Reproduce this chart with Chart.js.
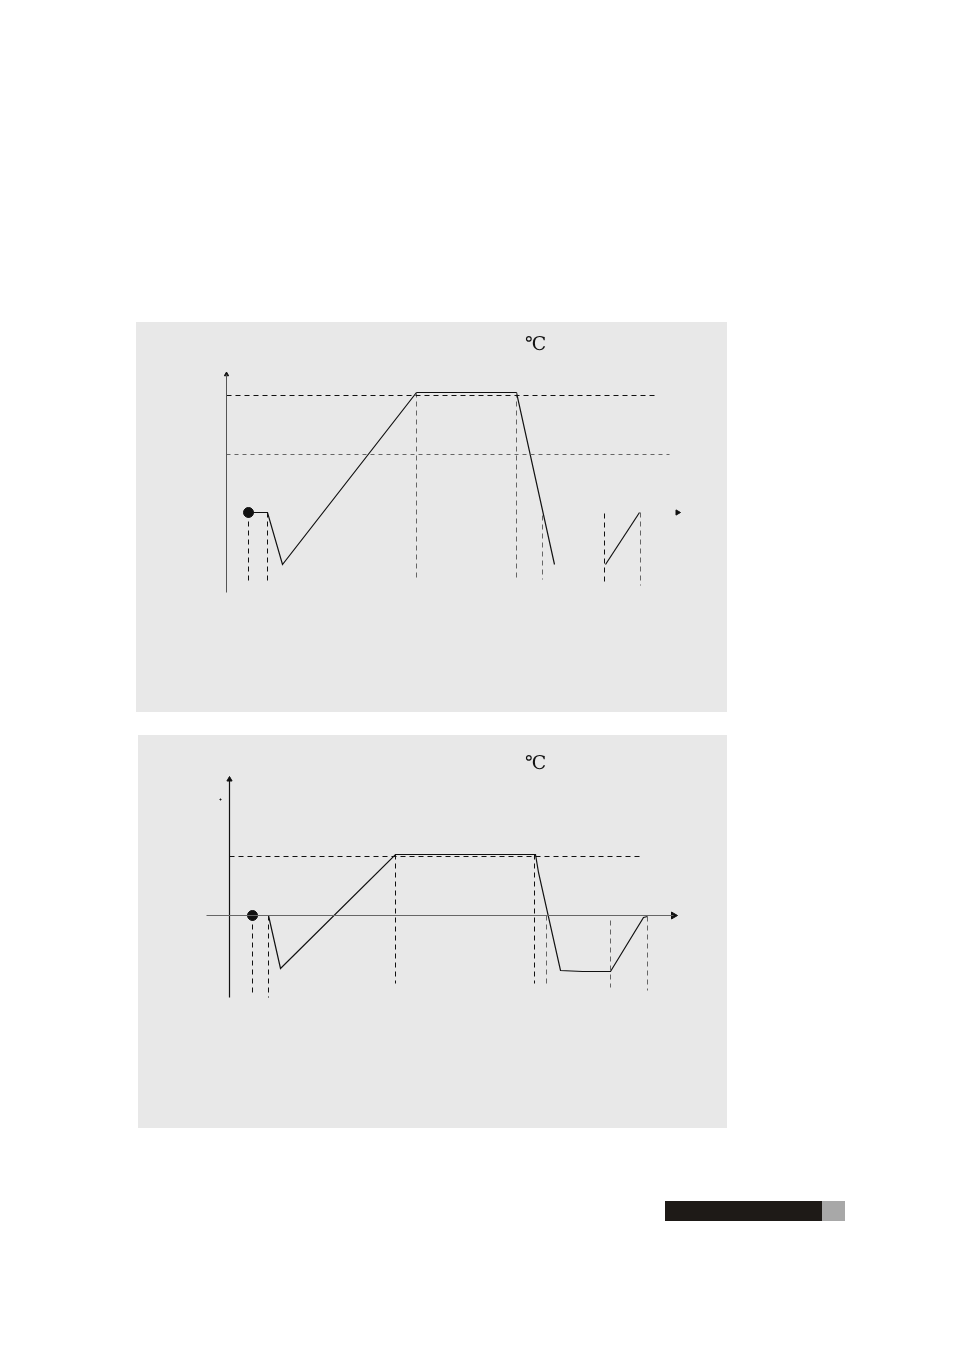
<!DOCTYPE html>
<html>
<head>
<meta charset="utf-8">
<script src="https://cdn.jsdelivr.net/npm/chart.js@4.4.1/dist/chart.umd.min.js"></script>
<style>
    body { margin: 0; background: #fff; width: 954px; height: 1350px; position: relative; overflow: hidden; }
    .panel { position: absolute; background: #e8e8e8; }
    .panel canvas { position: absolute; left: 0; top: 0; }
    .unidad { position: absolute; font-family: "Liberation Serif", "DejaVu Serif", serif; font-size: 19px; color: #111; line-height: 1; }
    .barra { position: absolute; top: 1201px; height: 20px; }
</style>
</head>
<body>

<div class="panel" style="left:136px; top:322px; width:591px; height:390px;">
    <canvas id="graficoSuperior" width="591" height="390"></canvas>
    <div class="unidad" style="left:389px; top:12px;">℃</div>
</div>

<div class="panel" style="left:138px; top:735px; width:589px; height:393px;">
    <canvas id="graficoInferior" width="589" height="393"></canvas>
    <div class="unidad" style="left:387px; top:18px;">℃</div>
</div>

<div class="barra" style="left:665px; width:157px; background:#1e1a17;"></div>
<div class="barra" style="left:822px; width:23px; background:#a8a8a8;"></div>

<script>
// ---------- Diagrama superior (tiempo / temperatura, unidades arbitrarias) ----------
const perfilSupX = [22, 41, 56, 190, 290, 328];
const perfilSupY = [0, 0, -52, 120, 120, -52];
const rampaSupX = [379, 413];
const rampaSupY = [-52, 0];
const nivelesSup = [117, 58];
const nivelesSupFin = [431, 443];
const guiasSupX = [22, 41, 190, 290, 316, 378, 414];
const guiasSupDesde = [0, 0, 120, 120, -3, -1, 0];
const guiasSupHasta = [-70, -70, -66, -66, -67, -71, -73];
const ejeSupY = [-80, 138];
const flechaSupX = 451;

// ---------- Diagrama inferior ----------
const perfilInfX = [39, 51, 166, 306, 309, 331, 353, 381, 414, 418];
const perfilInfY = [0, -53, 61, 61, 43, -55, -56, -56, -2, -1];
const nivelInf = 59;
const nivelInfFin = 411;
const guiasInfX = [23, 39, 166, 305, 317, 381, 418];
const guiasInfDesde = [0, 0, 61, 61, 0, -5, -1];
const guiasInfHasta = [-81, -82, -68, -68, -72, -72, -75];
const ejeInfX = [-23, 444];
const ejeInfY = [-82, 136];
const inicioInf = 23;

function puntos(xs, ys) {
    return xs.map((x, i) => ({ x: x, y: ys[i] }));
}

// segmentos separados por huecos (y null)
function segmentos(lista) {
    const out = [];
    lista.forEach(s => {
        out.push({ x: s[0], y: s[1] }, { x: s[2], y: s[3] }, { x: s[2], y: null });
    });
    return out;
}

function guias(xs, desde, hasta, indices) {
    return segmentos(indices.map(i => [xs[i], desde[i], xs[i], hasta[i]]));
}

function linea(data, color, ancho, dash) {
    return {
        data: data,
        showLine: true,
        borderColor: color,
        borderWidth: ancho,
        borderDash: dash || [],
        pointRadius: 0,
        spanGaps: false,
        tension: 0
    };
}

function marca(x, y, estilo, radio, giro) {
    return {
        data: [{ x: x, y: y }],
        showLine: false,
        pointStyle: estilo,
        pointRadius: radio,
        rotation: giro || 0,
        backgroundColor: "#111",
        borderColor: "#111",
        borderWidth: 1
    };
}

function crearDiagrama(id, rangoX, rangoY, datasets) {
    const ctx = document.getElementById(id);
    if (!ctx) {
        console.warn(`Canvas no encontrado: ${id}`);
        return;
    }
    new Chart(ctx, {
        type: "scatter",
        data: { datasets: datasets },
        options: {
            responsive: false,
            animation: false,
            layout: { padding: 0, autoPadding: false },
            plugins: { legend: { display: false }, tooltip: { enabled: false } },
            scales: {
                x: { type: "linear", display: false, min: rangoX[0], max: rangoX[1] },
                y: { type: "linear", display: false, min: rangoY[0], max: rangoY[1] }
            }
        }
    });
}

// superior (medio pixel de desfase para lineas nitidas)
crearDiagrama("graficoSuperior", [-90.5, 500.5], [-199.5, 190.5], [
    linea(segmentos([[0, ejeSupY[0], 0, ejeSupY[1]]]), "#555", 1),
    linea(segmentos([[0, nivelesSup[0], nivelesSupFin[0], nivelesSup[0]]]), "#111", 1, [5, 4]),
    linea(segmentos([[0, nivelesSup[1], nivelesSupFin[1], nivelesSup[1]]]), "#666", 1, [4, 4]),
    linea(guias(guiasSupX, guiasSupDesde, guiasSupHasta, [0, 1, 5]), "#111", 1, [5, 4]),
    linea(guias(guiasSupX, guiasSupDesde, guiasSupHasta, [2, 3, 4, 6]), "#666", 1, [5, 4]),
    linea(puntos(perfilSupX, perfilSupY), "#111", 1.2),
    linea(puntos(rampaSupX, rampaSupY), "#111", 1.2),
    marca(perfilSupX[0], perfilSupY[0], "circle", 5),
    marca(0, ejeSupY[1], "triangle", 2.5),
    marca(flechaSupX, 0, "triangle", 3, 90)
]);

// inferior
crearDiagrama("graficoInferior", [-91.5, 497.5], [-212.5, 180.5], [
    linea(segmentos([[ejeInfX[0], 0, ejeInfX[1], 0]]), "#666", 1),
    linea(segmentos([[0, ejeInfY[0], 0, ejeInfY[1]]]), "#111", 1.2),
    linea(segmentos([[0, nivelInf, nivelInfFin, nivelInf]]), "#111", 1, [5, 4]),
    linea(guias(guiasInfX, guiasInfDesde, guiasInfHasta, [0, 1, 2, 3]), "#111", 1, [5, 4]),
    linea(guias(guiasInfX, guiasInfDesde, guiasInfHasta, [4, 5, 6]), "#666", 1, [5, 4]),
    linea(puntos(perfilInfX, perfilInfY), "#111", 1.2),
    marca(inicioInf, 0, "circle", 5),
    marca(0, ejeInfY[1], "triangle", 3),
    marca(ejeInfX[1], 0, "triangle", 4, 90),
    marca(-9, 116, "circle", 0.6)
]);
</script>
</body>
</html>
